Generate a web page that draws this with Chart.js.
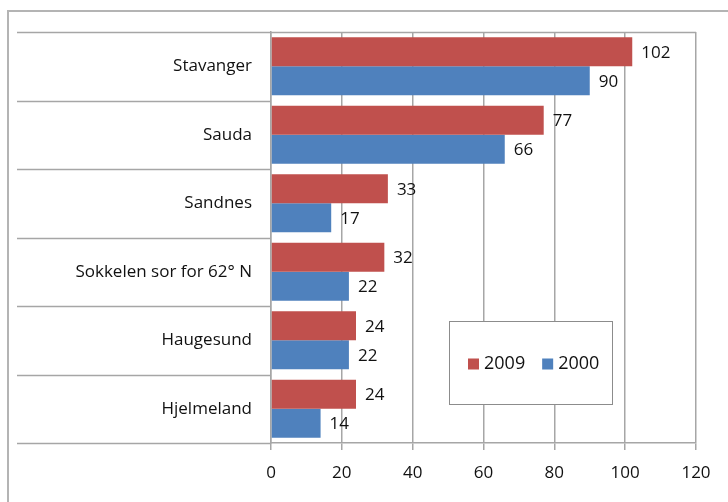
<!DOCTYPE html>
<html><head><meta charset="utf-8">
<script src="https://cdn.jsdelivr.net/npm/chart.js@4/dist/chart.umd.min.js"></script>
<style>html,body{margin:0;padding:0;background:#fff}#wrap{width:728px;height:502px}</style>
</head><body><div id="wrap"><canvas id="c" width="728" height="502"></canvas></div>
<script>
const categories = ["Stavanger","Sauda","Sandnes","Sokkelen sor for 62° N","Haugesund","Hjelmeland"];
const values2009 = [102,77,33,32,24,24];
const values2000 = [90,66,17,22,22,14];
const seriesLabels = ["2009","2000"];
const seriesColors = ["#C0504D","#4F81BD"];
const xTicks = [0,20,40,60,80,100,120];

const FONT = "'Open Sans', Lato, sans-serif";
const TEXT = "#111111";
const LINE = "#a6a6a6";

const framePlugin = {
  id:'frame',
  beforeDraw(chart){
    const ctx = chart.ctx;
    ctx.save();
    ctx.strokeStyle = '#b4b4b4';
    ctx.lineWidth = 2;
    ctx.strokeRect(8, 11, 900, 700);
    ctx.restore();
  },
  afterDraw(chart){
    const ctx = chart.ctx, a = chart.chartArea, y = chart.scales.y;
    ctx.save();
    ctx.strokeStyle = LINE;
    ctx.lineWidth = 1.5;
    const n = chart.data.labels.length;
    for (let i = 0; i <= n; i++) {
      const py = Math.round((y.getPixelForValue(i - 0.5))) + 0.5;
      ctx.beginPath();
      ctx.moveTo(17, py);
      ctx.lineTo(a.left, py);
      ctx.stroke();
    }
    ctx.beginPath();
    ctx.moveTo(a.left, Math.round(a.top) + 0.5);
    ctx.lineTo(a.right, Math.round(a.top) + 0.5);
    ctx.stroke();
    // legend box
    const bx = 449, by = 321, bw = 163, bh = 83;
    ctx.fillStyle = '#fff';
    ctx.fillRect(bx, by, bw, bh);
    ctx.strokeStyle = '#8c8c8c';
    ctx.lineWidth = 1;
    ctx.strokeRect(bx + 0.5, by + 0.5, bw, bh);
    ctx.font = "500 18px " + FONT;
    ctx.textBaseline = 'middle';
    ctx.textAlign = 'left';
    let x = 468;
    const cy = by + bh / 2 + 1;
    chart.data.datasets.forEach(ds => {
      ctx.fillStyle = ds.backgroundColor;
      ctx.fillRect(x, cy - 5, 11, 11);
      ctx.fillStyle = TEXT;
      ctx.fillText(ds.label, x + 16, cy);
      x += 16 + ctx.measureText(ds.label).width + 17;
    });
    ctx.restore();
  },
  afterDatasetsDraw(chart){
    const ctx = chart.ctx;
    ctx.save();
    ctx.font = "500 17px " + FONT;
    ctx.fillStyle = TEXT;
    ctx.textBaseline = 'middle';
    ctx.textAlign = 'left';
    chart.data.datasets.forEach((ds, di) => {
      const meta = chart.getDatasetMeta(di);
      meta.data.forEach((el, i) => {
        ctx.fillText(String(ds.data[i]), el.x + 9, el.y + 1);
      });
    });
    ctx.restore();
  }
};

new Chart(document.getElementById('c'), {
  type: 'bar',
  data: {
    labels: categories,
    datasets: [
      {label: seriesLabels[0], data: values2009, backgroundColor: seriesColors[0]},
      {label: seriesLabels[1], data: values2000, backgroundColor: seriesColors[1]}
    ]
  },
  options: {
    indexAxis: 'y',
    responsive: false,
    animation: false,
    devicePixelRatio: 1,
    datasets: {bar: {categoryPercentage: 0.85, barPercentage: 1.0}},
    layout: {padding: {top: 32, right: 32, left: 0, bottom: 0}},
    plugins: {legend: {display: false}, tooltip: {enabled: false}},
    scales: {
      x: {
        min: 0, max: 120,
        afterBuildTicks(s){ s.ticks = xTicks.map(v => ({value: v})); },
        ticks: {padding: 13, color: TEXT, font: {family: FONT, size: 17, weight: '500'}},
        grid: {color: LINE, lineWidth: 1.5, tickLength: 7, drawTicks: true},
        border: {color: LINE, width: 1.5},
        afterFit(s){ s.height = 59; }
      },
      y: {
        ticks: {padding: 11, color: TEXT, font: {family: FONT, size: 17, weight: '500'}},
        grid: {display: false},
        border: {color: LINE, width: 1.5},
        afterFit(s){ s.width = 271; }
      }
    }
  },
  plugins: [framePlugin]
});
</script>
</body></html>
